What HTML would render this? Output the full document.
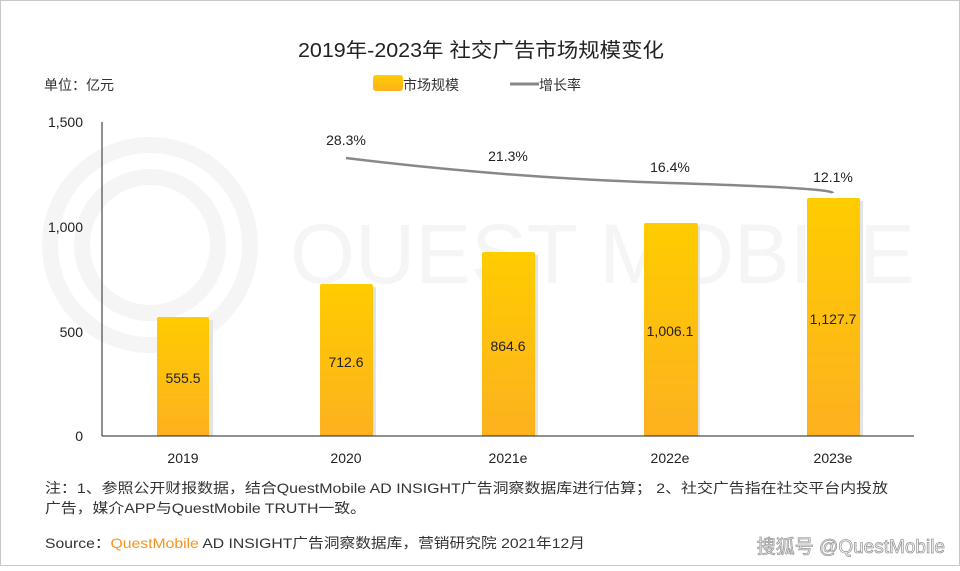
<!DOCTYPE html>
<html><head><meta charset="utf-8"><style>
body{margin:0;background:#fff}
svg text{font-family:"Liberation Sans","Noto Sans CJK SC",sans-serif}
</style></head><body>
<svg width="960" height="566" viewBox="0 0 960 566" xmlns="http://www.w3.org/2000/svg">
<defs><linearGradient id="g" x1="0" y1="0" x2="0" y2="1"><stop offset="0" stop-color="#ffcc00"/><stop offset="1" stop-color="#fdb11f"/></linearGradient></defs>
<rect x="0.5" y="0.5" width="959" height="565" fill="#fff" stroke="#c8c8c8"/>
<g fill="none" stroke="#f5f5f5" stroke-width="16"><circle cx="150" cy="245" r="100"/><circle cx="150" cy="245" r="68"/></g>
<text x="290" y="283" font-size="84" fill="#f5f5f5" textLength="625" lengthAdjust="spacingAndGlyphs">QUEST MOBILE</text>
<text x="298" y="57" font-size="20" fill="#222" textLength="366" lengthAdjust="spacingAndGlyphs">2019年-2023年 社交广告市场规模变化</text>
<text x="44" y="90" font-size="14" fill="#333">单位：亿元</text>
<rect x="373" y="75" width="30" height="16" rx="3" fill="url(#g)"/>
<text x="403" y="90" font-size="14" fill="#333">市场规模</text>
<line x1="510" y1="84" x2="539" y2="84" stroke="#888" stroke-width="3"/>
<text x="539" y="90" font-size="14" fill="#333">增长率</text>
<g font-size="14" fill="#222" text-anchor="end">
<text x="83" y="127">1,500</text><text x="83" y="232">1,000</text><text x="83" y="337">500</text><text x="83" y="441">0</text></g>
<line x1="102" y1="122" x2="102" y2="436" stroke="#222"/>
<g fill="#e3e3e3">
<rect x="160" y="320" width="53" height="116"/><rect x="323" y="287" width="53" height="149"/><rect x="485" y="255" width="53" height="181"/><rect x="647" y="226" width="53" height="210"/><rect x="810" y="201" width="53" height="235"/></g>
<g fill="url(#g)">
<path d="M157,436 V319 Q157,317 159,317 H207 Q209,317 209,319 V436 Z"/>
<path d="M320,436 V286 Q320,284 322,284 H371 Q373,284 373,286 V436 Z"/>
<path d="M482,436 V254 Q482,252 484,252 H533 Q535,252 535,254 V436 Z"/>
<path d="M644,436 V225 Q644,223 646,223 H696 Q698,223 698,225 V436 Z"/>
<path d="M807,436 V200 Q807,198 809,198 H858 Q860,198 860,200 V436 Z"/>
</g>
<line x1="102" y1="436" x2="914" y2="436" stroke="#222"/>
<g font-size="14" fill="#222" text-anchor="middle">
<text x="183" y="383">555.5</text><text x="346" y="367">712.6</text><text x="508" y="351">864.6</text><text x="670" y="336">1,006.1</text><text x="833" y="324">1,127.7</text>
<text x="183" y="463">2019</text><text x="346" y="463">2020</text><text x="508" y="463">2021e</text><text x="670" y="463">2022e</text><text x="833" y="463">2023e</text>
<text x="346" y="145">28.3%</text><text x="508" y="161">21.3%</text><text x="670" y="172">16.4%</text><text x="833" y="182">12.1%</text>
</g>
<path d="M346,158 Q508,178 670,183 T833,193" fill="none" stroke="#888" stroke-width="2.5"/>
<g font-size="14" fill="#333">
<text x="45" y="493" textLength="843" lengthAdjust="spacingAndGlyphs">注：1、参照公开财报数据，结合QuestMobile AD INSIGHT广告洞察数据库进行估算； 2、社交广告指在社交平台内投放</text>
<text x="45" y="513" textLength="321" lengthAdjust="spacingAndGlyphs">广告，媒介APP与QuestMobile TRUTH一致。</text>
<text x="45" y="548" textLength="540" lengthAdjust="spacingAndGlyphs">Source：<tspan fill="#f7931e">QuestMobile</tspan> AD INSIGHT广告洞察数据库，营销研究院 2021年12月</text>
</g>
<text x="945" y="553" font-size="19" fill="#fff" stroke="#999" stroke-width="0.8" text-anchor="end">搜狐号 @QuestMobile</text>
</svg>
</body></html>
